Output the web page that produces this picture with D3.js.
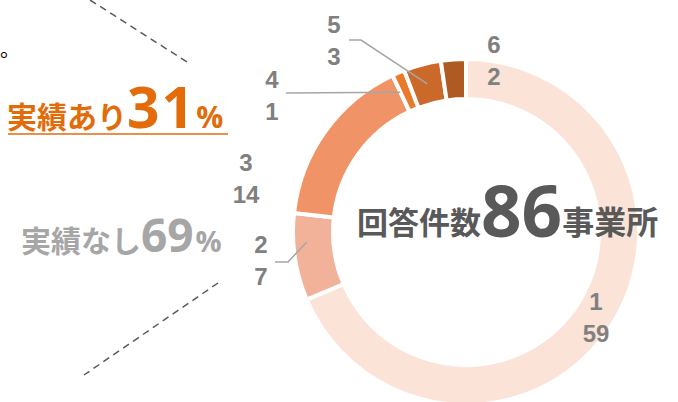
<!DOCTYPE html>
<html>
<head>
<meta charset="utf-8">
<script src="https://cdn.jsdelivr.net/npm/d3@7"></script>
<style>
  body { margin: 0; background: #fff; }
  svg { display: block; font-family: "Noto Sans CJK JP", "Noto Sans", sans-serif; }
</style>
</head>
<body>
<div id="chart"></div>
<script>
// data
const categories = ["1", "2", "3", "4", "5", "6"];
const counts = [59, 7, 14, 1, 3, 2];
const colors = ["#FBE4D7", "#F2B29A", "#F09367", "#E87A2A", "#CA692A", "#AF5A22"];
const totalLabel = "86";
const withPct = "31", withoutPct = "69";

const width = 678, height = 402;
const svg = d3.select("#chart").append("svg")
  .attr("width", width)
  .attr("height", height);

const cx = 466, cy = 232;
const outerR = 173, innerR = 133;
const numFont = "'Open Sans', 'DejaVu Sans', sans-serif";

const pie = d3.pie().sort(null).value(d => d.v);
const arc = d3.arc().innerRadius(innerR).outerRadius(outerR);
const arcs = pie(categories.map((c, i) => ({ c: c, v: counts[i], col: colors[i] })));

const g = svg.append("g").attr("transform", `translate(${cx},${cy})`);
g.selectAll("path")
  .data(arcs)
  .join("path")
  .attr("d", arc)
  .attr("fill", d => d.data.col)
  .attr("stroke", "#fff")
  .attr("stroke-width", 4);

// labels (category on top line, value below), placed by hand like the original
const labelPos = [
  { x: 596, y: 310 },
  { x: 261, y: 253 },
  { x: 246, y: 171 },
  { x: 272, y: 88 },
  { x: 334, y: 33 },
  { x: 494, y: 53 }
];
const lbl = svg.append("g")
  .attr("fill", "#808080")
  .attr("font-weight", "bold")
  .attr("font-size", 24)
  .attr("font-family", "'Liberation Sans', Arial, sans-serif")
  .attr("text-anchor", "middle");
arcs.forEach((d, i) => {
  const p = labelPos[i];
  lbl.append("text").attr("x", p.x).attr("y", p.y).text(d.data.c);
  lbl.append("text").attr("x", p.x).attr("y", p.y + 32).text(d.data.v);
});

// leader lines for the small slices
function centroidAbs(i) {
  const c = d3.arc().innerRadius(innerR + 8).outerRadius(outerR - 8).centroid(arcs[i]);
  return [cx + c[0], cy + c[1]];
}
const lead = svg.append("g").attr("fill", "none").attr("stroke", "#A6A6A6").attr("stroke-width", 1.5);
let c4 = centroidAbs(4);
lead.append("polyline").attr("points", `349,40 361,40 ${c4[0]},${c4[1]}`);
let c3 = centroidAbs(3);
lead.append("polyline").attr("points", `286,93 ${c3[0] - 6},${c3[1] + 1}`);
let c1 = centroidAbs(1);
lead.append("polyline").attr("points", `275,262 288,262 ${c1[0] - 8},${c1[1] - 12}`);

// center title
const ct = svg.append("text")
  .attr("x", 357).attr("y", 234)
  .attr("fill", "#595959")
  .attr("font-weight", "bold");
ct.append("tspan").attr("font-size", 31).text("回答件数");
ct.append("tspan").attr("font-size", 71).attr("font-family", numFont).attr("dy", 3).text(totalLabel);
ct.append("tspan").attr("font-size", 32).attr("dy", -3).text("事業所");

// left annotations
const t1 = svg.append("text")
  .attr("x", 7).attr("y", 128)
  .attr("fill", "#E36C0A")
  .attr("font-weight", "bold");
t1.append("tspan").attr("font-size", 30).text("実績あり");
t1.append("tspan").attr("font-size", 57).attr("font-family", numFont).attr("letter-spacing", 2).text(withPct);
t1.append("tspan").attr("font-size", 30).attr("font-family", numFont).text("%");
svg.append("line")
  .attr("x1", 8).attr("x2", 228).attr("y1", 134).attr("y2", 134)
  .attr("stroke", "#E36C0A").attr("stroke-width", 1.5);

const t2 = svg.append("text")
  .attr("x", 21).attr("y", 252)
  .attr("fill", "#A6A6A6")
  .attr("font-weight", "bold");
t2.append("tspan").attr("font-size", 30).text("実績なし");
t2.append("tspan").attr("font-size", 46).attr("font-family", numFont).text(withoutPct);
t2.append("tspan").attr("font-size", 29).attr("font-family", numFont).attr("dx", 2).text("%");

// dashed guide lines
const dash = svg.append("g").attr("stroke", "#595959").attr("stroke-width", 1.5).attr("stroke-dasharray", "7,5");
dash.append("line").attr("x1", 90).attr("y1", 0).attr("x2", 187).attr("y2", 62);
dash.append("line").attr("x1", 218).attr("y1", 283).attr("x2", 84).attr("y2", 375);

// punctuation at the left edge
svg.append("text").attr("x", 0).attr("y", 57).attr("font-size", 20).attr("fill", "#000").text("。");
</script>
</body>
</html>
